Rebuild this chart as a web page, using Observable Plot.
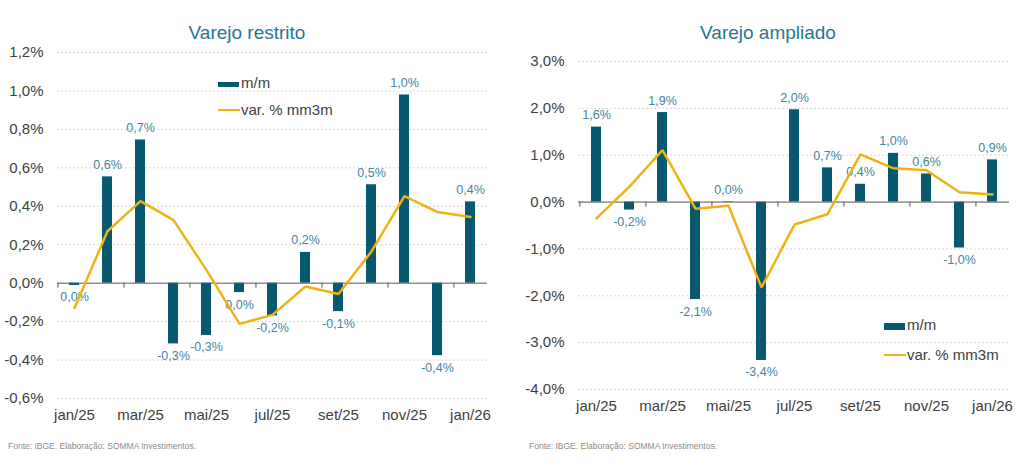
<!DOCTYPE html>
<html>
<head>
<meta charset="utf-8">
<script src="https://cdn.jsdelivr.net/npm/d3@7"></script>
<script src="https://cdn.jsdelivr.net/npm/@observablehq/plot@0.6"></script>
<style>
  html, body { margin: 0; padding: 0; background: #ffffff; }
  #wrap { position: relative; width: 1024px; height: 464px; overflow: hidden; font-family: "Liberation Sans", Arial, sans-serif; }
  .panel { position: absolute; top: 0; width: 512px; height: 430px; }
  .title { position: absolute; font-size: 19px; color: #2b7590; white-space: nowrap; transform: translate(-50%, -50%); }
  .leg { position: absolute; font-size: 15px; color: #404040; white-space: nowrap; line-height: 1; }
  .sw { position: absolute; }
  .foot { position: absolute; font-size: 8.5px; color: #8c8c8c; white-space: nowrap; }
</style>
</head>
<body>
<div id="wrap">
  <div class="panel" id="left"></div>
  <div class="panel" id="right" style="left:512px"></div>
</div>
<script>
const months = ["jan/25","fev/25","mar/25","abr/25","mai/25","jun/25","jul/25","ago/25","set/25","out/25","nov/25","dez/25","jan/26"];
const restritoMM   = [-0.012, 0.553, 0.745, -0.316, -0.272, -0.049, -0.170, 0.160, -0.148, 0.512, 0.979, -0.377, 0.423];
const restritoMM3M = [-0.130, 0.270, 0.427, 0.328, 0.068, -0.212, -0.165, -0.017, -0.056, 0.165, 0.453, 0.370, 0.344];
const ampliadoMM   = [1.60, -0.17, 1.91, -2.08, 0.01, -3.38, 1.97, 0.73, 0.38, 1.04, 0.60, -0.98, 0.90];
const ampliadoMM3M = [-0.35, 0.33, 1.11, -0.14, -0.08, -1.82, -0.48, -0.26, 1.02, 0.72, 0.68, 0.21, 0.16];
const restritoTicks = [-0.6, -0.4, -0.2, 0, 0.2, 0.4, 0.6, 0.8, 1.0, 1.2];
const ampliadoTicks = [-4, -3, -2, -1, 0, 1, 2, 3];
const xLabelMonths = months.filter((d, i) => i % 2 === 0);
const seriesNames = ["m/m", "var. % mm3m"];
const titles = ["Varejo restrito", "Varejo ampliado"];
const source = "Fonte: IBGE. Elaboração: SOMMA Investimentos.";

const BAR = "#08596f";
const LABEL = "#4386a0";
const GOLD = "#efb213";
const AXIS = "#404040";

function fmtLabel(v) {
  let r = Math.round(v * 10) / 10;
  if (r === 0) r = 0;
  return r.toFixed(1).replace(".", ",") + "%";
}
function fmtTick(v) { return (+v).toFixed(1).replace(".", ",") + "%"; }

function chart(mm, mm3, ticks, dims) {
  const data = months.map((m, i) => ({m, mm: mm[i], mm3: mm3[i]}));
  const W = 512, H = 430;
  const halfStep = (W - dims.ml - dims.mr) / months.length / 2;
  return Plot.plot({
    width: W, height: H,
    marginLeft: dims.ml, marginRight: dims.mr, marginTop: dims.mt, marginBottom: dims.mb,
    style: {fontFamily: "'Liberation Sans', Arial, sans-serif", fontSize: "15px", color: AXIS, background: "transparent", overflow: "visible"},
    x: {type: "band", domain: months, paddingInner: 0.7, paddingOuter: 0.35, axis: null, label: null},
    y: {domain: [ticks[0], ticks[ticks.length - 1]], axis: null, label: null},
    marks: [
      Plot.ruleY(ticks.filter(t => t !== 0), {stroke: "#d6d6d6", strokeDasharray: "2,2"}),
      Plot.axisY(ticks, {tickSize: 0, tickPadding: 14, tickFormat: fmtTick, fontSize: 15, fill: AXIS, label: null}),
      Plot.axisX(xLabelMonths, {tickSize: 0, tickPadding: 11, fontSize: 15, fill: AXIS, label: null}),
      Plot.barY(data, {x: "m", y: "mm", fill: BAR}),
      Plot.ruleY([0], {stroke: "#555555", strokeWidth: 1}),
      Plot.ruleX(xLabelMonths, {x: d => d, y1: 0, y2: 0, insetBottom: -5, dx: -halfStep, stroke: "#555555"}),
      Plot.text(data.filter(d => d.mm >= 0), {x: "m", y: "mm", text: d => fmtLabel(d.mm), dy: -12, fill: LABEL, fontSize: 12.5}),
      Plot.text(data.filter(d => d.mm < 0), {x: "m", y: "mm", text: d => fmtLabel(d.mm), dy: 12, fill: LABEL, fontSize: 12.5}),
      Plot.line(data, {x: "m", y: "mm3", stroke: GOLD, strokeWidth: 2.5, strokeLinejoin: "miter"})
    ]
  });
}

function addPanel(el, plot, title, titlePos, leg) {
  el.appendChild(plot);
  const t = document.createElement("div");
  t.className = "title"; t.textContent = title;
  t.style.left = titlePos[0] + "px"; t.style.top = titlePos[1] + "px";
  el.appendChild(t);
  const s1 = document.createElement("div");
  s1.className = "sw";
  Object.assign(s1.style, {left: leg.x + "px", top: (leg.y1 - leg.bh / 2) + "px", width: "21px", height: leg.bh + "px", background: BAR});
  el.appendChild(s1);
  const l1 = document.createElement("div");
  l1.className = "leg"; l1.textContent = seriesNames[0];
  Object.assign(l1.style, {left: (leg.x + 23) + "px", top: (leg.y1 - 9) + "px"});
  el.appendChild(l1);
  const s2 = document.createElement("div");
  s2.className = "sw";
  Object.assign(s2.style, {left: leg.x + "px", top: (leg.y2 - 1.25) + "px", width: "22px", height: "2.5px", background: GOLD});
  el.appendChild(s2);
  const l2 = document.createElement("div");
  l2.className = "leg"; l2.textContent = seriesNames[1];
  Object.assign(l2.style, {left: (leg.x + 23) + "px", top: (leg.y2 - 8) + "px"});
  el.appendChild(l2);
  const f = document.createElement("div");
  f.className = "foot"; f.textContent = source;
  Object.assign(f.style, {left: leg.fx + "px", top: "441px"});
  el.appendChild(f);
}

addPanel(document.getElementById("left"),
  chart(restritoMM, restritoMM3M, restritoTicks, {ml: 57, mr: 25, mt: 52, mb: 32}),
  titles[0], [247, 33], {x: 218, y1: 84, y2: 110, bh: 5, fx: 8});
addPanel(document.getElementById("right"),
  chart(ampliadoMM, ampliadoMM3M, ampliadoTicks, {ml: 66, mr: 15, mt: 61, mb: 41}),
  titles[1], [256, 33], {x: 372, y1: 326, y2: 355, bh: 7, fx: 17});
</script>
</body>
</html>
